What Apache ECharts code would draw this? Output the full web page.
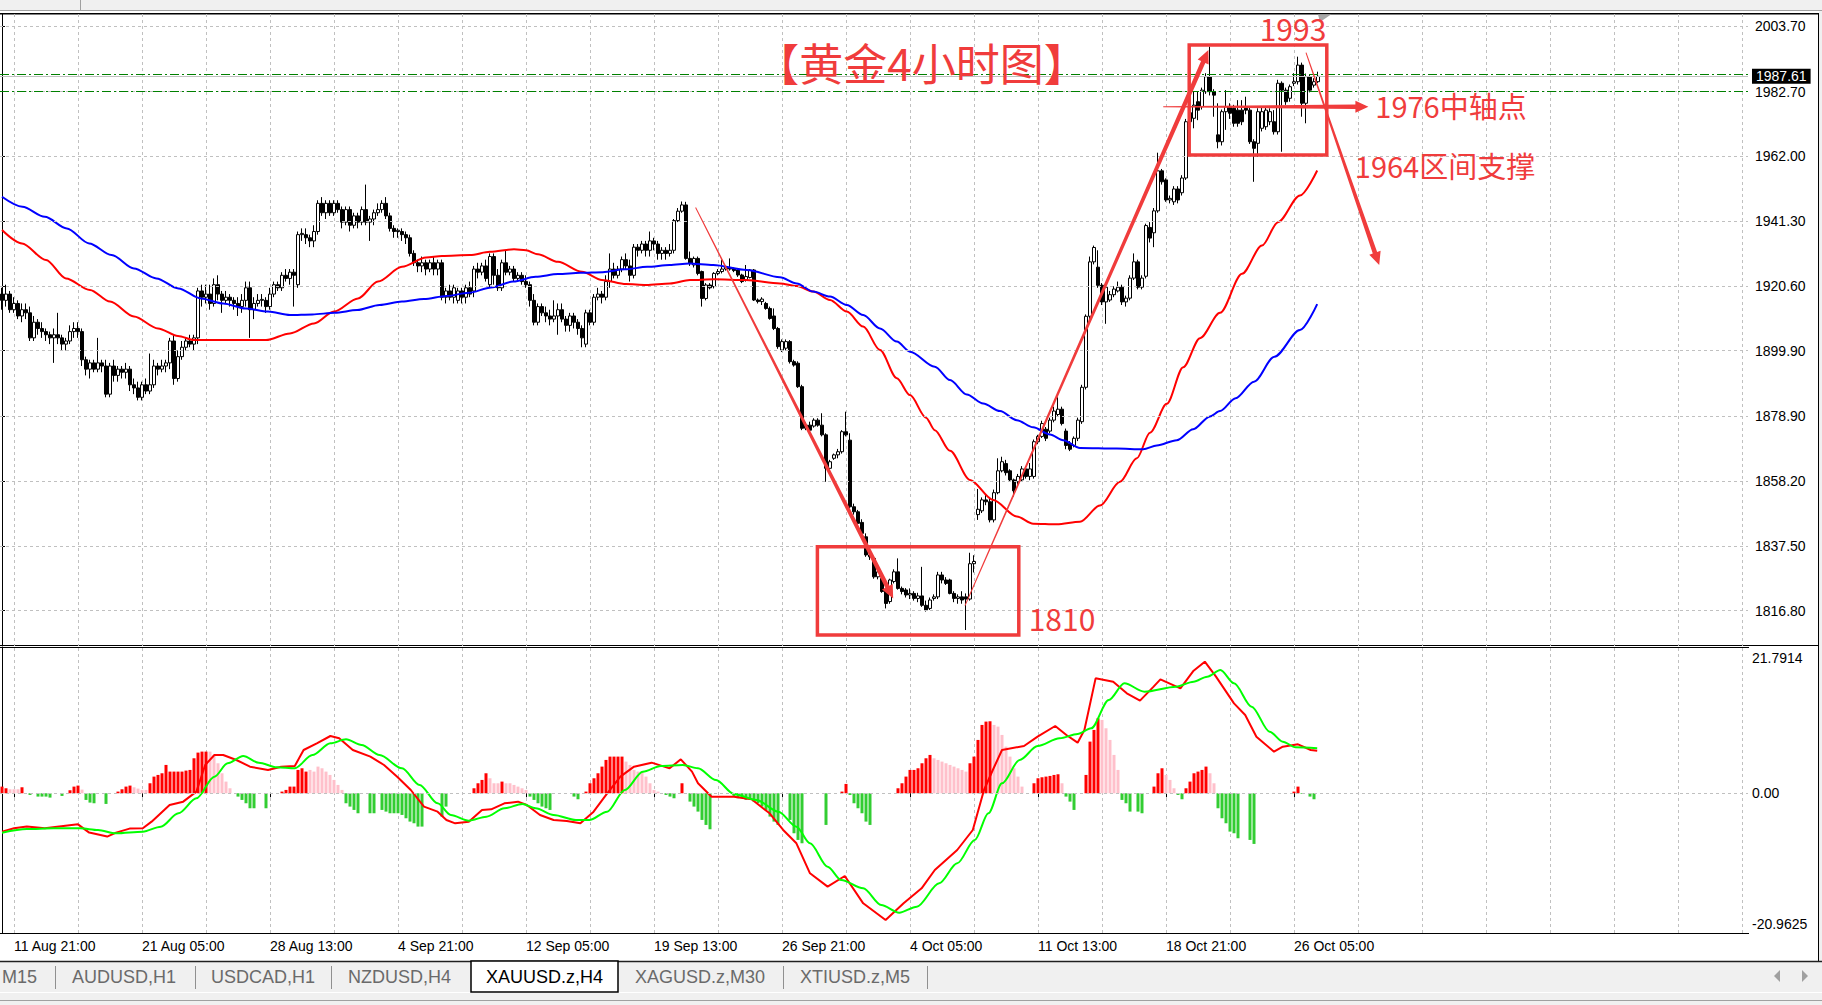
<!DOCTYPE html>
<html><head><meta charset="utf-8">
<script src="https://cdn.jsdelivr.net/npm/echarts@6/dist/echarts.min.js"></script>
<style>html,body{margin:0;padding:0;background:#fff;overflow:hidden}#c{width:1822px;height:1005px}</style>
</head><body><div id="c"></div>
<script>
// ---------------- DATA ----------------
// XAUUSD H4 candles from 11 Aug 09:00, each [open, close, low, high]
const candles = [
[1918,1916,1913,1920],[1916,1918,1914,1921],[1918,1913,1912,1919],[1913,1915,1912,1917],[1915,1911,1910,1916],
[1911,1913,1909,1915],[1913,1912,1910,1915],[1912,1904,1903,1914],[1904,1909,1903,1911],[1909,1907,1905,1910],
[1907,1906,1904,1909],[1906,1905,1903,1907],[1905,1904,1902,1906],[1904,1905,1896,1907],[1905,1904,1902,1912],
[1904,1902,1900,1905],[1902,1903,1900,1904],[1903,1906,1902,1908],[1906,1907,1904,1909],[1907,1906,1904,1909],
[1906,1897,1895,1907],[1897,1894,1892,1898],[1894,1896,1891,1897],[1896,1894,1893,1897],[1894,1896,1893,1904],
[1896,1895,1893,1897],[1895,1886,1885,1897],[1886,1895,1885,1896],[1895,1892,1890,1897],[1892,1894,1890,1895],
[1894,1893,1891,1895],[1893,1894,1891,1896],[1894,1889,1887,1895],[1889,1888,1886,1891],[1888,1885,1884,1890],
[1885,1889,1884,1890],[1889,1887,1886,1891],[1887,1889,1886,1899],[1889,1895,1888,1897],[1895,1894,1892,1896],
[1894,1895,1893,1897],[1895,1896,1893,1897],[1896,1903,1894,1904],[1903,1891,1889,1905],[1891,1898,1890,1900],
[1898,1901,1897,1903],[1901,1903,1900,1904],[1903,1902,1901,1905],[1902,1904,1900,1905],[1904,1919,1902,1920],
[1919,1917,1914,1921],[1917,1918,1915,1921],[1918,1915,1913,1921],[1915,1921,1914,1923],[1921,1918,1916,1924],
[1918,1916,1912,1919],[1916,1917,1915,1919],[1917,1916,1914,1918],[1916,1915,1913,1917],[1915,1914,1911,1917],
[1914,1916,1912,1918],[1916,1920,1914,1922],[1920,1913,1904,1922],[1913,1915,1910,1917],[1915,1916,1914,1918],
[1916,1916.3,1914,1918],[1916,1914,1912,1917],[1914,1918,1913,1920],[1918,1921,1917,1922],[1921,1920,1919,1922],
[1920,1924,1919,1925],[1924,1923,1922,1926],[1923,1925,1921,1926],[1925,1924,1914,1926],[1921,1937,1920,1938],
[1937,1937.4,1935,1939],[1937,1936,1934,1939],[1936,1935,1933,1937],[1935,1938,1933,1940],[1938,1947,1937,1948],
[1947,1944,1943,1949],[1944,1947,1942,1948],[1947,1944,1943,1948],[1944,1947,1943,1948],[1947,1945,1944,1948],
[1945,1941,1939,1946],[1941,1945,1940,1946],[1945,1940,1938,1946],[1940,1943,1939,1944],[1943,1941,1939,1944],
[1941,1945,1940,1946],[1945,1941,1940,1953],[1941,1942,1935,1943],[1942,1944,1940,1945],[1944,1945,1943,1947],
[1945,1947,1944,1948],[1947,1943,1942,1949],[1943,1939,1938,1944],[1939,1938,1936,1940],[1938,1938.4,1936,1939],
[1938,1937,1935,1939],[1937,1936,1934,1938],[1936,1931,1930,1937],[1931,1928,1927,1932],[1928,1927,1925,1929],
[1927,1928,1925,1930],[1928,1926,1924,1929],[1926,1928,1925,1929],[1928,1926,1924,1930],[1926,1928,1924,1929],
[1928,1917,1916,1929],[1917,1919,1915,1920],[1919,1917,1916,1921],[1917,1920,1915,1921],[1916,1919,1915,1920],
[1919,1917,1915,1920],[1917,1920,1915,1921],[1920,1918,1917,1922],[1919,1926,1917,1927],[1926,1925,1923,1928],
[1925,1927,1924,1928],[1927,1923,1922,1929],[1921,1930,1920,1931],[1930,1924,1921,1931],[1924,1920,1919,1926],
[1920,1928,1919,1929],[1928,1925,1924,1932],[1925,1926,1924,1927],[1926,1923,1922,1927],[1923,1924,1922,1925],
[1924,1922,1921,1925],[1922,1921,1920,1924],[1921,1916,1914,1922],[1916,1909,1908,1918],[1909,1914,1908,1915],
[1914,1912,1911,1915],[1912,1911,1909,1914],[1911,1910,1908,1913],[1910,1911,1909,1916],[1911,1913,1905,1915],
[1913,1910,1909,1915],[1910,1908,1906,1911],[1908,1911,1906,1912],[1911,1909,1907,1912],[1909,1907,1905,1910],
[1907,1904,1901,1908],[1902,1912,1901,1913],[1912,1909,1908,1913],[1909,1917,1908,1918],[1917,1918,1916,1920],
[1918,1917,1915,1919],[1917,1922,1916,1924],[1922,1926,1920,1931],[1926,1924,1923,1928],[1924,1926,1923,1927],
[1926,1929,1925,1930],[1929,1927,1926,1931],[1927,1924,1922,1929],[1924,1933,1923,1934],[1933,1932,1930,1934],
[1932,1934,1931,1935],[1934,1932,1930,1935],[1932,1935,1930,1938],[1935,1934,1932,1936],[1934,1931,1929,1935],
[1931,1932,1929,1933],[1932,1931,1929,1933],[1931,1932,1930,1934],[1932,1941.5,1931,1942],[1941.5,1944.5,1941,1945.5],
[1944.5,1946.5,1944,1947.6],[1946.5,1929.4,1929,1947.5],[1929.4,1927.8,1927,1931.6],[1927.3,1929.4,1926.5,1930],[1929.4,1924.6,1924,1930],
[1925.2,1916.6,1914,1925.5],[1916.6,1920.9,1916,1921.5],[1920.9,1920,1919.5,1921.5],[1920.4,1924.6,1919.8,1925],[1924.6,1925.2,1924,1926],
[1925.2,1926,1924.6,1929],[1926,1926.5,1925.5,1927],[1926.5,1926,1925.5,1929.4],[1926,1925.5,1925,1926.5],[1925.7,1924.1,1923.5,1926],
[1924.1,1922,1921.5,1924.5],[1922.5,1923.6,1922,1927.3],[1923.3,1925.7,1923,1926],[1925.7,1916.1,1915.8,1926],[1916.1,1915.6,1915,1916.6],
[1915.6,1916.4,1914.5,1917],[1915,1913.4,1913,1915.5],[1913.4,1910.2,1909.8,1914],[1911,1907,1906.5,1913.4],[1907,1901.2,1900.5,1907.5],
[1900.1,1902.8,1899.5,1903.5],[1900.7,1902.8,1900,1903.5],[1902.8,1896.4,1895.8,1903.3],[1896.4,1895.3,1894.8,1897],[1895.9,1888.4,1888,1896.5],
[1888.4,1875.1,1874.5,1889],[1875.1,1876.1,1874.5,1877],[1876.1,1874.5,1874,1877.2],[1875.8,1877.7,1875.3,1878.3],[1877.7,1876.1,1875.6,1878.3],
[1876.1,1873,1872.5,1879.9],[1873,1862.3,1858,1873.5],[1862.3,1864.4,1861.5,1865],[1865.5,1866.6,1865,1867],[1866.6,1867.6,1865.5,1868.5],
[1867.6,1874,1867,1874.5],[1874,1873,1872.5,1880.4],[1871.3,1850,1849.5,1873.5],[1850,1848.4,1847.5,1851],[1848.4,1844.7,1844,1849],
[1845,1841.5,1841,1846],[1840.4,1834.6,1834,1841.5],[1834.6,1834,1833,1835.5],[1833.5,1827.6,1827,1834],[1827.6,1829.2,1826.8,1830],
[1827.1,1822.9,1822.5,1828],[1823.4,1819.1,1817.5,1824],[1819.7,1826.6,1819,1827],[1826.1,1829.2,1825.5,1830],[1829.2,1823.9,1823.5,1833.5],
[1823.9,1822.9,1822,1824.5],[1823.4,1821.8,1821,1824],[1821.8,1822.3,1820.5,1823.9],[1822.3,1820.7,1820,1823],[1820.7,1821.5,1819.5,1822.5],
[1821.5,1818.5,1818,1830.8],[1818.5,1817,1816.5,1820],[1817.5,1820.2,1817,1821],[1820.7,1821.2,1820,1822],[1821.2,1828.2,1820.5,1829.2],
[1828.2,1826.6,1825.5,1829.2],[1826.6,1825.5,1825,1827.5],[1826.6,1822.3,1822,1827],[1822.3,1820.7,1819.5,1823],[1820.7,1821.2,1819,1822],
[1821.2,1820.2,1819,1823],[1821.2,1820.5,1810.6,1822.3],[1820.5,1831.8,1820,1835.3],[1831.8,1832.5,1829,1834.5],[1847.5,1849.2,1845.8,1855.7],
[1848.7,1852.2,1848,1853],[1852.2,1851.6,1850.5,1854],[1851.6,1845.8,1845,1852.5],[1845.8,1854.5,1845,1855.5],[1854.5,1861.5,1854,1865.5],
[1861.5,1864.4,1861,1866],[1863.8,1860.9,1860,1865],[1861.5,1858.6,1858,1862],[1858.6,1855.1,1853.3,1859],[1858,1859.7,1857,1860.5],
[1858.6,1862.1,1858,1863],[1862.1,1859.7,1859,1863],[1859.7,1862.1,1858.5,1864],[1859.7,1870.8,1859,1871.5],[1870.8,1872.5,1870,1873],
[1872.5,1876.6,1872,1877.5],[1874.8,1871.9,1871,1875.5],[1874.2,1877.7,1873.5,1878.5],[1877.7,1880.6,1877,1882],[1879.5,1881.2,1879,1885],
[1881.2,1876.6,1876,1882],[1874.2,1869.6,1868.4,1875],[1870.2,1868.4,1867.8,1871],[1869.6,1871.9,1869,1872.5],[1871.9,1877.7,1871,1878.5],
[1877.2,1888.2,1876.5,1889],[1888.2,1910.9,1887.5,1911.5],[1910.9,1928.3,1910,1930],[1928.3,1932.9,1927.5,1933.5],[1926.6,1920.8,1920,1932],
[1920.8,1915.5,1914.5,1921.5],[1915.5,1920.2,1908.5,1921],[1916.1,1917.8,1915.5,1919],[1917.8,1919.6,1917,1920.5],[1919,1920.2,1918.5,1922],
[1920.2,1915.5,1914.5,1921],[1915.5,1916.7,1914,1917.5],[1916.7,1923.1,1916,1924],[1923.1,1928.3,1922.5,1931],[1928.3,1920.2,1919.5,1929],
[1920.2,1923.1,1919.5,1924],[1923.7,1939.9,1923,1940.5],[1939.3,1935.9,1934.5,1941],[1937.6,1944.6,1933,1945.5],[1944.6,1957.4,1944,1963.2],
[1957.4,1953.9,1953,1958],[1954.5,1948.1,1947.5,1955],[1948.1,1948.6,1947,1949.5],[1947.5,1951.6,1946.5,1952.5],[1951.6,1948.1,1947,1952.5],
[1950.4,1955.1,1949.5,1956],[1955.1,1973.1,1954.5,1974],[1973.1,1976,1971,1978.5],[1974.2,1978.4,1971,1982.7],[1979.5,1976.8,1973.6,1982.7],
[1977.9,1983.2,1977,1984],[1982.7,1987.5,1982,1988.6],[1987.5,1982.7,1981.5,1997.1],[1982.7,1981.6,1974.7,1983.5],[1968.9,1966.7,1964.6,1979],
[1966.7,1976.3,1965.5,1977],[1976.3,1977.9,1970.5,1983.2],[1977.9,1975.8,1974,1979],[1977.4,1972.6,1971.5,1978.5],[1976.8,1972.6,1971.5,1980],
[1976.8,1973.1,1972,1980],[1977.4,1976.8,1975.5,1981.1],[1976.8,1966.7,1966,1978],[1966.7,1964.6,1953.9,1967.5],[1966.2,1976.3,1961.9,1977.4],
[1971,1976.3,1970,1977.5],[1971.5,1976.8,1970.5,1977.5],[1973.1,1976.3,1972,1977.4],[1973.1,1969.9,1969,1976.8],[1969.9,1985.4,1969,1986.5],
[1985.4,1983.2,1963.5,1986],[1983.2,1979.5,1978.5,1984],[1980.6,1984.3,1979.5,1985],[1985.4,1985.9,1984.5,1988.6],[1985.9,1991.2,1985,1993.9],
[1991.2,1979,1974.7,1992],[1979,1987.5,1972.6,1988.5],[1987.5,1983.2,1982.5,1988],[1984.8,1985.9,1984,1987],[1985.9,1987.6,1985.5,1989.1]
];

// Moving averages: [bar position, price]
const maRed = [[0,1938.5],[5,1934.2],[11,1928.9],[16,1923],[22,1919.3],[27,1915.6],[33,1910.8],[39,1907],[44,1904.6],[48,1903.3],[66,1903.3],[72,1905.4],[78,1908.6],[83,1912.4],[89,1916.6],[94,1922],[100,1926.7],[106,1929.7],[110,1930.2],[117,1930.5],[122,1931.5],[128,1932.3],[131,1932],[134,1930.7],[139,1928.3],[145,1925.1],[150,1922.5],[156,1921.2],[161,1920.9],[167,1921.4],[172,1922.5],[178,1922.7],[186,1922.5],[194.5,1921.4],[198.7,1920.6],[202.8,1918.8],[207,1916.1],[211.2,1912.4],[215.3,1907.6],[219.5,1900.1],[223.7,1891.1],[227,1885.7],[231,1878.5],[233.2,1874.5],[237,1867.9],[242,1858.6],[247.8,1852.2],[253.7,1846.9],[257.8,1844.6],[263.7,1844.4],[269.5,1845.2],[274.5,1850.4],[279.5,1858.0],[283.7,1865.5],[287,1873.7],[291.2,1882.9],[295.3,1894.6],[299.5,1903.9],[304.5,1912.0],[310,1924.5],[315,1933.5],[319,1941],[324.5,1949.5],[328.8,1957.5]];
const maBlue = [[0,1949.1],[5.1,1945.9],[10.7,1942.7],[16.2,1939],[21.8,1934.2],[27.4,1930.5],[33,1926.2],[38.6,1923],[44.1,1919.8],[49.7,1916.6],[55.3,1915],[60.9,1913.4],[66.5,1912.4],[72,1911.3],[77.6,1911.5],[83.2,1912],[88.8,1912.9],[94.4,1914.5],[100,1915.6],[105.5,1916.4],[111.1,1917.4],[116.7,1918.4],[122.3,1920.1],[127.8,1922],[133.4,1923.5],[139,1924.4],[144.6,1924.8],[150.2,1925],[155.7,1925.9],[161.3,1926.7],[166.9,1927.3],[171.8,1927.8],[177.8,1927.3],[186.2,1925.7],[194.5,1923.4],[198.7,1921.4],[202.8,1918.8],[207,1917.2],[211.2,1914.5],[215.3,1911.3],[219.5,1907.0],[223.7,1902.8],[227,1899.6],[233.2,1894.8],[237,1890.5],[241.2,1885.9],[245.3,1883.0],[249.5,1880.6],[253.7,1877.7],[257.8,1875.4],[262,1873.1],[265.3,1871.3],[269.5,1868.8],[278.7,1868.6],[285.3,1868.4],[288.7,1869.6],[293.7,1871.3],[297.8,1874.8],[302,1878.9],[304.5,1880.6],[308.4,1884.7],[313,1890],[318.1,1898],[324.5,1906.5],[328.8,1914.8]];

// MACD main (red) and signal (green) lines: [bar position, value]
const macdMain = [[0,-5.76],[3,-5.26],[6.2,-5.0],[10.7,-5.26],[17.4,-4.76],[19,-4.66],[21.8,-5.9],[26.3,-6.5],[28.5,-5.9],[31.9,-5.3],[35.2,-5.26],[37.4,-4.26],[41.9,-1.76],[45.3,-1.26],[48.6,0.24],[50.8,4.24],[53.1,5.74],[55.3,5.74],[58.6,4.99],[62,3.99],[66.5,3.49],[69.8,3.99],[73.2,4.09],[75.4,6.49],[78.7,7.49],[82.1,8.59],[84.3,8.24],[87.7,6.49],[92.1,5.49],[95.5,4.24],[98.8,2.49],[102.2,0.49],[105.5,-2.01],[108.9,-2.76],[111.1,-4.01],[113.3,-4.51],[116.7,-4.26],[120,-2.51],[122.3,-2.41],[125.6,-1.51],[129,-1.26],[131.2,-1.76],[134.5,-3.26],[137.9,-4.01],[141.2,-4.16],[144.6,-4.51],[147.9,-2.76],[151.3,-0.01],[154.6,2.49],[158,3.99],[162.4,4.59],[166.9,3.74],[169.7,5.09],[172.5,3.24],[174,1.49],[177.4,-0.51],[183,-0.51],[187.4,-0.91],[191.9,-3.01],[195.3,-5.51],[198.6,-7.51],[202,-12.01],[206.4,-14.01],[210.7,-12.41],[215.3,-16.51],[220.9,-19.01],[225.4,-16.51],[229.9,-14.26],[233.2,-11.51],[238.8,-8.51],[242.7,-5.51],[245.5,0.49],[247.7,3.49],[250,6.49],[255.5,7.09],[258.9,8.49],[263.3,10.09],[266.1,8.74],[268.9,7.59],[270.6,9.49],[273.4,17.24],[277.8,16.74],[281.2,14.99],[284.5,13.89],[287.9,15.99],[289.6,17.09],[294.6,15.74],[297.9,18.39],[300.7,19.74],[303.5,17.49],[308,13.49],[310.8,11.74],[313.6,8.49],[318,6.24],[320.2,6.99],[324,7.34],[327.2,6.49],[328.8,6.39]];
const macdSignal = [[0,-5.91],[6.2,-5.36],[12.9,-5.26],[19.6,-5.26],[24,-5.51],[28.5,-6.01],[35.2,-5.76],[39.7,-5.01],[44.1,-3.01],[48.6,-0.76],[53.1,2.49],[56.4,4.49],[60.3,5.59],[64.2,4.59],[68.7,3.89],[73.2,3.74],[77.6,5.74],[82.1,7.49],[86,8.09],[89.9,7.24],[94.4,5.74],[100,3.74],[104.4,1.24],[108.9,-1.51],[112.2,-3.26],[116.7,-4.11],[121.1,-3.51],[125.6,-2.26],[130.1,-1.61],[133.4,-2.26],[137.9,-3.26],[143.5,-4.01],[146.8,-4.01],[151.3,-2.76],[155.7,0.49],[160.2,3.24],[164.7,4.09],[170.2,4.24],[174,3.74],[178.5,1.99],[183,-0.11],[188.6,-1.01],[194.1,-2.76],[198.6,-5.01],[202,-7.51],[206.4,-11.01],[209.8,-13.01],[215.3,-14.26],[219.8,-16.76],[224.3,-17.91],[228.7,-17.01],[234.3,-13.51],[238.8,-10.51],[243.2,-7.01],[246.6,-3.01],[250,1.49],[254.4,4.99],[258.9,7.09],[264.4,8.24],[268.9,8.89],[272.3,9.74],[276.7,13.99],[280.6,16.49],[285.6,15.24],[293.5,15.99],[297.9,16.74],[301.3,17.49],[304.6,18.49],[308,16.49],[312.4,12.99],[316.9,9.24],[320.2,7.74],[323.4,6.89],[328.8,6.74]];

// MACD histogram per bar (0 = no bar) and its tone (r = rising red, p = falling pink, g = green)
const macdHist = [
1.0,0.75,0.6,0.6,0.6,0.9,0,-0.25,0,-0.5,
-0.5,-0.5,-0.65,0,0,-0.4,0,0.45,1.0,1.15,
0.55,-1.0,-1.4,-1.5,0,0,-1.6,0,0,0.25,
0.6,1.0,1.15,0.9,0.7,0.5,0.5,1.5,2.5,2.75,
3.0,4.25,3.25,3.25,3.25,3.25,3.4,3.5,5.25,6.1,
6.25,6.25,6.25,5.75,4.5,3.0,1.75,0.75,0,-0.5,
-1.0,-1.5,-2.25,-2.25,0,0,-2.25,0,0,0,
0.25,0.5,1.0,1.0,3.5,3.75,3.25,3.5,3.25,4.0,
3.75,3.25,2.75,2.0,1.25,0.5,-1.5,-2.0,-2.5,-3.0,
0,0,-3.0,-3.0,0,-2.5,-2.75,-3.0,-3.0,-3.0,
-3.25,-3.75,-4.25,-4.5,-5.0,-5.0,0,0,0,0,
-3.5,-2.0,0,0,0,0,0,0,0.75,1.5,
2.0,3.0,2.25,1.5,1.5,1.75,1.5,1.5,1.25,1.0,
0.75,0.5,-0.5,-1.0,-1.5,-2.0,-2.25,-2.5,0,0,
0,0,0,-0.5,-0.9,0,0.25,1.5,2.25,3.0,
4.0,5.0,5.5,5.5,5.5,5.5,4.75,4.25,3.5,3.25,
3.25,2.5,1.5,0.5,0.25,0,-0.25,-0.5,-0.75,0,
1.5,0,-1.25,-2.0,-2.75,-4.0,-4.75,-5.4,0,0,
0,0,0,-0.5,-0.75,-0.75,-1.0,-1.0,-1.25,-1.5,
-2.0,-2.5,-3.5,-4.25,-4.75,0,0,-4.0,-6.0,-7.0,
-7.5,0,0,0,0,0,-4.75,0,0,0,
0.25,1.4,-0.25,-1.5,-2.25,-3.0,-4.25,-4.75,0,0,
0,0,0,0,0.75,1.5,2.5,3.5,3.5,3.75,
4.5,5.25,5.75,5.25,5.0,4.75,4.5,4.25,4.0,3.75,
3.5,3.25,4.5,5.5,8.0,10.25,10.75,10.8,10.25,10.0,
8.75,7.0,5.5,3.75,2.5,1.0,0,0,1.5,2.25,
2.4,2.5,2.6,2.75,2.85,1.5,-0.5,-1.25,-2.5,0,
0,2.75,7.75,9.5,11.25,11.0,9.75,8.0,5.75,3.5,
-1.0,-1.5,-2.75,0,-2.75,-3.0,0,0,1.0,3.0,
3.75,2.75,2.0,0.75,-0.25,-0.9,0.75,1.75,3.0,3.25,
3.5,4.0,3.0,1.5,-2.25,-3.75,-4.5,-5.75,-6.0,-6.75,
0,0,-7.0,-7.6,0,0,0,0,0,0,
0,0,0,0.25,1.0,-0.1,0,-0.5,-0.9,0
];
const macdTone = (
"rrpppr.g.g"+"ggg..g.rrr"+"pggg..g..r"+"rrrpppprrr"+"rrrrrrrrrr"+
"rrpppppp.g"+"gggg..g..."+"rrrrrrrppp"+"ppppppgggg"+"..gg.ggggg"+
"gggggg...."+"gg......rr"+"rrppprpppp"+"ppgggggg.."+"...gg.rrrr"+
"rrrrrrpppp"+"ppppp.ggg."+"r.gggggg.."+"...ggggggg"+"ggggg..ggg"+
"g.....g..."+"rrgggggg.."+"....rrrrrr"+"rrrppppppp"+"pprrrrrrpp"+
"pppppp..rr"+"rrrrrpggg."+".rrrrppppp"+"ggg.gg..rr"+"rpppggrrrr"+
"rrppgggggg"+"..gg......"+"...rrg.gg.").split('');

// Axis tick values
const priceTicks = [1816.8,1837.5,1858.2,1878.9,1899.9,1920.6,1941.3,1962.0,1982.7,2003.7];
const macdTicks = [-20.9625, 0, 21.7914];
// Horizontal level lines (green dash-dot) and the current bid
const levelLines = [1988.3, 1983.0];
const lastPrice = 1987.61;

// Hand-drawn annotations, in [bar position, price]
const annoBoxes = [[203.85,1837.2,254.2,1809.0],[296.8,1997.6,331.2,1962.5]];
const annoArrows = [[173.4,1945.7,222.8,1820.7],[240.75,1818.4,301.6,1996.0],[290.3,1977.9,341.6,1977.9],[326.0,1995.2,344.3,1927.3]];
const annoTextPos = [[322.75,2003.0],[265.0,1814.3],[362.25,1978.3],[360.75,1959.3]];
const annoTextLabels = ['1993','1810','1976中轴点','1964区间支撑'];
const chartTitle = '【黄金4小时图】';
const tabLabels = ['M15','AUDUSD,H1','USDCAD,H1','NZDUSD,H4','XAUUSD.z,H4','XAGUSD.z,M30','XTIUSD.z,M5'];
const activeTab = 'XAUUSD.z,H4';

// ---------------- LAYOUT / STYLE ----------------
const FONT = '"Liberation Sans", Arial, sans-serif';
const CJK = '"Noto Sans CJK SC", "Noto Sans", sans-serif';
const ANNO = '#f03c3c';
const GRIDC = '#c0c0c0';
const N_SLOTS = 437;
const Y_MIN = 1805.49, Y_MAX = 2007.54;
const M_MIN = -20.9625, M_MAX = 21.7914;
const TONE = {r:'#ff0000', p:'#ffc0cb', g:'#32cd32'};
const ANNO_TEXT_SIZE = [30,30,29,29];

// bar times: 4-hour bars at 01,05,09,13,17,21 on weekdays, starting 11 Aug 2023 09:00
const MONTHS = ['Jan','Feb','Mar','Apr','May','Jun','Jul','Aug','Sep','Oct','Nov','Dec'];
const HOURS = [1,5,9,13,17,21];
function buildTimes(){
  const out = []; let d = new Date(Date.UTC(2023,7,11)); let h = 2;
  while (out.length < N_SLOTS) {
    const dow = d.getUTCDay();
    if (dow >= 1 && dow <= 5) {
      for (; h < HOURS.length && out.length < N_SLOTS; h++) {
        out.push(d.getUTCDate()+' '+MONTHS[d.getUTCMonth()]+' '+String(HOURS[h]).padStart(2,'0')+':00');
      }
    }
    h = 0; d = new Date(d.getTime()+86400000);
  }
  return out;
}
const times = buildTimes();
const LAST_LABEL = candles.length - 7;
const isLabel = i => i >= 3 && i <= LAST_LABEL && (i-3) % 32 === 0;
const isGrid = i => i >= 3 && (i-3) % 16 === 0;

const splitLineCfg = {show:true, interval:(i)=>isGrid(i), alignWithLabel:true, lineStyle:{color:GRIDC, type:[3,3], width:1}};

const histData = macdHist.map((v,i)=> v === 0 ? '-' : {value:v, itemStyle:{color:TONE[macdTone[i]] || TONE.g}});

function arrowItem(params, api){
  const s = api.coord([api.value(0), api.value(1)]);
  const e = api.coord([api.value(2), api.value(3)]);
  const dx = e[0]-s[0], dy = e[1]-s[1], L = Math.hypot(dx,dy);
  const ux = dx/L, uy = dy/L, nx = -uy, ny = ux;
  const w0 = 0.5, w1 = 2.3, HL = 13, HW = 6;
  const bx = e[0]-ux*HL, by = e[1]-uy*HL;
  const pts = [
    [s[0]+nx*w0, s[1]+ny*w0], [bx+nx*w1, by+ny*w1], [bx+nx*HW, by+ny*HW], [e[0], e[1]],
    [bx-nx*HW, by-ny*HW], [bx-nx*w1, by-ny*w1], [s[0]-nx*w0, s[1]-ny*w0]
  ];
  return {type:'polygon', shape:{points:pts}, style:{fill:ANNO}};
}

const graphics = [
  {type:'rect', shape:{x:0,y:0,width:1822,height:11}, style:{fill:'#f0f0f0'}, silent:true},
  {type:'line', shape:{x1:0,y1:10.5,x2:1822,y2:10.5}, style:{stroke:'#a0a0a0',lineWidth:1}, silent:true},
  {type:'line', shape:{x1:80.5,y1:0,x2:80.5,y2:10}, style:{stroke:'#a0a0a0',lineWidth:1}, silent:true},
  {type:'line', shape:{x1:0,y1:13.75,x2:1819,y2:13.75}, style:{stroke:'#000',lineWidth:1.5}, silent:true},
  {type:'line', shape:{x1:0,y1:645.5,x2:1819,y2:645.5}, style:{stroke:'#000',lineWidth:1}, silent:true},
  {type:'line', shape:{x1:0,y1:647.5,x2:1749,y2:647.5}, style:{stroke:'#000',lineWidth:1}, silent:true},
  {type:'line', shape:{x1:0,y1:933.5,x2:1749,y2:933.5}, style:{stroke:'#000',lineWidth:1}, silent:true},
  {type:'rect', shape:{x:1819,y:11,width:3,height:951}, style:{fill:'#f0f0f0'}, silent:true},
  {type:'line', shape:{x1:1818.5,y1:13,x2:1818.5,y2:961}, style:{stroke:'#000',lineWidth:1}, silent:true},
  {type:'polygon', shape:{points:[[1318,14.5],[1331,14.5],[1320,22]]}, style:{fill:'#a8a8a8'}, silent:true},
  // tab bar
  {type:'rect', shape:{x:0,y:961,width:1822,height:44}, style:{fill:'#f0f0f0'}, silent:true},
  {type:'line', shape:{x1:0,y1:961.5,x2:1822,y2:961.5}, style:{stroke:'#202020',lineWidth:1.5}, silent:true},
  {type:'line', shape:{x1:0,y1:992.5,x2:1822,y2:992.5}, style:{stroke:'#ffffff',lineWidth:1}, silent:true},
  {type:'line', shape:{x1:0,y1:1000.5,x2:1822,y2:1000.5}, style:{stroke:'#a0a0a0',lineWidth:1}, silent:true},
  {type:'rect', shape:{x:471,y:961,width:147,height:31}, style:{fill:'#fff',stroke:'#000',lineWidth:1.5}, silent:true},
  {type:'polygon', shape:{points:[[1780,970],[1774,976],[1780,982]]}, style:{fill:'#a0a0a0'}, silent:true},
  {type:'polygon', shape:{points:[[1802,970],[1808,976],[1802,982]]}, style:{fill:'#a0a0a0'}, silent:true},
  {type:'text', x:921.5, y:62, style:{text:chartTitle, fill:ANNO, font:'44px '+CJK, align:'center', verticalAlign:'middle'}, z:10}
];
const tabX = [2,72,211,348,486,635,800];
const sepX = [55.5,195.5,331.5,783.5,927.5];
tabLabels.forEach((t,i)=>graphics.push({type:'text', x:tabX[i], y:977, style:{text:t, fill: t===activeTab ? '#000' : '#6a6a6a', font:'18px '+FONT, verticalAlign:'middle'}, silent:true}));
sepX.forEach(x=>graphics.push({type:'line', shape:{x1:x,y1:966,x2:x,y2:989}, style:{stroke:'#909090',lineWidth:1}, silent:true}));

const option = {
  animation: false,
  backgroundColor: '#fff',
  grid: [
    {left:0, top:14, width:1748, height:632, outerBoundsMode:'none'},
    {left:0, top:648, width:1748, height:285, outerBoundsMode:'none'}
  ],
  xAxis: [
    {type:'category', gridIndex:0, data:times, boundaryGap:true, axisLine:{show:false}, axisTick:{show:false}, axisLabel:{show:false}, splitLine:splitLineCfg},
    {type:'category', gridIndex:1, data:times, boundaryGap:true, axisLine:{show:false},
     axisTick:{show:true, interval:(i)=>isLabel(i), alignWithLabel:true, length:4, lineStyle:{color:'#000'}},
     axisLabel:{show:true, interval:(i)=>isLabel(i), align:'left', margin:6, color:'#000', fontSize:14, fontFamily:FONT},
     splitLine:splitLineCfg},
    {type:'value', gridIndex:0, min:-0.5, max:N_SLOTS-0.5, show:false},
    {type:'value', gridIndex:1, min:-0.5, max:N_SLOTS-0.5, show:false}
  ],
  yAxis: [
    {type:'value', gridIndex:0, position:'right', min:Y_MIN, max:Y_MAX, splitLine:{show:false},
     axisLine:{show:true, lineStyle:{color:'#000'}},
     axisTick:{show:true, customValues:priceTicks, length:3, lineStyle:{color:'#000'}},
     axisLabel:{customValues:priceTicks, formatter:v=>v.toFixed(2), margin:7, color:'#000', fontSize:14, fontFamily:FONT}},
    {type:'value', gridIndex:1, position:'right', min:M_MIN, max:M_MAX, splitLine:{show:false},
     axisLine:{show:true, lineStyle:{color:'#000'}}, axisTick:{show:false},
     axisLabel:{customValues:macdTicks, margin:4, color:'#000', fontSize:14, fontFamily:FONT,
       formatter:v=> v === 0 ? '0.00' : (v > 0 ? '{t|'+v.toFixed(4)+'}' : '{b|'+v.toFixed(4)+'}'),
       rich:{t:{padding:[20,0,0,0], fontSize:14, fontFamily:FONT, color:'#000'}, b:{padding:[0,0,18,0], fontSize:14, fontFamily:FONT, color:'#000'}}}}
  ],
  graphic: graphics,
  series: [
    {name:'priceGrid', type:'line', xAxisIndex:2, yAxisIndex:0, data:[], z:1, silent:true,
     markLine:{silent:true, symbol:['none','none'], label:{show:false}, lineStyle:{color:GRIDC, type:[3,3], width:1},
       data: priceTicks.map(v=>({yAxis:v}))}},
    {name:'XAUUSD', type:'candlestick', xAxisIndex:0, yAxisIndex:0, data:candles, barWidth:3, z:3,
     itemStyle:{color:'#ffffff', color0:'#000000', borderColor:'#000000', borderColor0:'#000000', borderWidth:1}},
    {name:'MA red', type:'line', xAxisIndex:2, yAxisIndex:0, data:maRed, showSymbol:false, smooth:0.3, smoothMonotone:'x', z:4,
     lineStyle:{color:'#ff0000', width:2}},
    {name:'MA blue', type:'line', xAxisIndex:2, yAxisIndex:0, data:maBlue, showSymbol:false, smooth:0.3, smoothMonotone:'x', z:4,
     lineStyle:{color:'#0000ff', width:2}},
    {name:'levels', type:'line', xAxisIndex:2, yAxisIndex:0, data:[], z:5, silent:true,
     markLine:{silent:true, symbol:['none','none'], label:{show:false}, data:[
       {yAxis:levelLines[0], lineStyle:{color:'#008000', type:[9,3,2,3], width:1}},
       {yAxis:levelLines[1], lineStyle:{color:'#008000', type:[9,3,2,3], width:1}},
       {yAxis:lastPrice, lineStyle:{color:'#c0c0c0', type:'solid', width:1},
        label:{show:true, position:'end', distance:4, formatter:lastPrice.toFixed(2), color:'#fff', backgroundColor:'#000', padding:[1,4,0,4], fontSize:14, fontFamily:FONT}}
     ]}},
    {name:'boxes', type:'custom', xAxisIndex:2, yAxisIndex:0, data:annoBoxes, z:8, silent:true, encode:{x:[0,2], y:[1,3]},
     renderItem:(params, api)=>{
       const p0 = api.coord([api.value(0), api.value(1)]), p1 = api.coord([api.value(2), api.value(3)]);
       return {type:'rect', shape:{x:Math.min(p0[0],p1[0]), y:Math.min(p0[1],p1[1]), width:Math.abs(p1[0]-p0[0]), height:Math.abs(p1[1]-p0[1])},
               style:{fill:'none', stroke:ANNO, lineWidth:3.5}};
     }},
    {name:'arrows', type:'custom', xAxisIndex:2, yAxisIndex:0, data:annoArrows, z:8, silent:true, encode:{x:[0,2], y:[1,3]}, renderItem:arrowItem},
    {name:'notes', type:'custom', xAxisIndex:2, yAxisIndex:0, data:annoTextPos, z:9, silent:true, encode:{x:0, y:1},
     renderItem:(params, api)=>{
       const p = api.coord([api.value(0), api.value(1)]);
       return {type:'text', x:p[0], y:p[1], style:{text:annoTextLabels[params.dataIndex], fill:ANNO,
               font:ANNO_TEXT_SIZE[params.dataIndex]+'px '+CJK, align:'center', verticalAlign:'middle'}};
     }},
    {name:'MACD hist', type:'bar', xAxisIndex:1, yAxisIndex:1, data:histData, barWidth:3, z:2,
     markLine:{silent:true, symbol:['none','none'], label:{show:false}, lineStyle:{color:GRIDC, type:[3,3], width:1}, data:[{yAxis:0}]}},
    {name:'MACD', type:'line', xAxisIndex:3, yAxisIndex:1, data:macdMain, showSymbol:false, z:4, lineStyle:{color:'#ff0000', width:2}},
    {name:'Signal', type:'line', xAxisIndex:3, yAxisIndex:1, data:macdSignal, showSymbol:false, smooth:0.3, smoothMonotone:'x', z:4, lineStyle:{color:'#00ff00', width:2}}
  ]
};
const chart = echarts.init(document.getElementById('c'), null, {renderer:'svg', width:1822, height:1005});
chart.setOption(option);
</script>
</body></html>
